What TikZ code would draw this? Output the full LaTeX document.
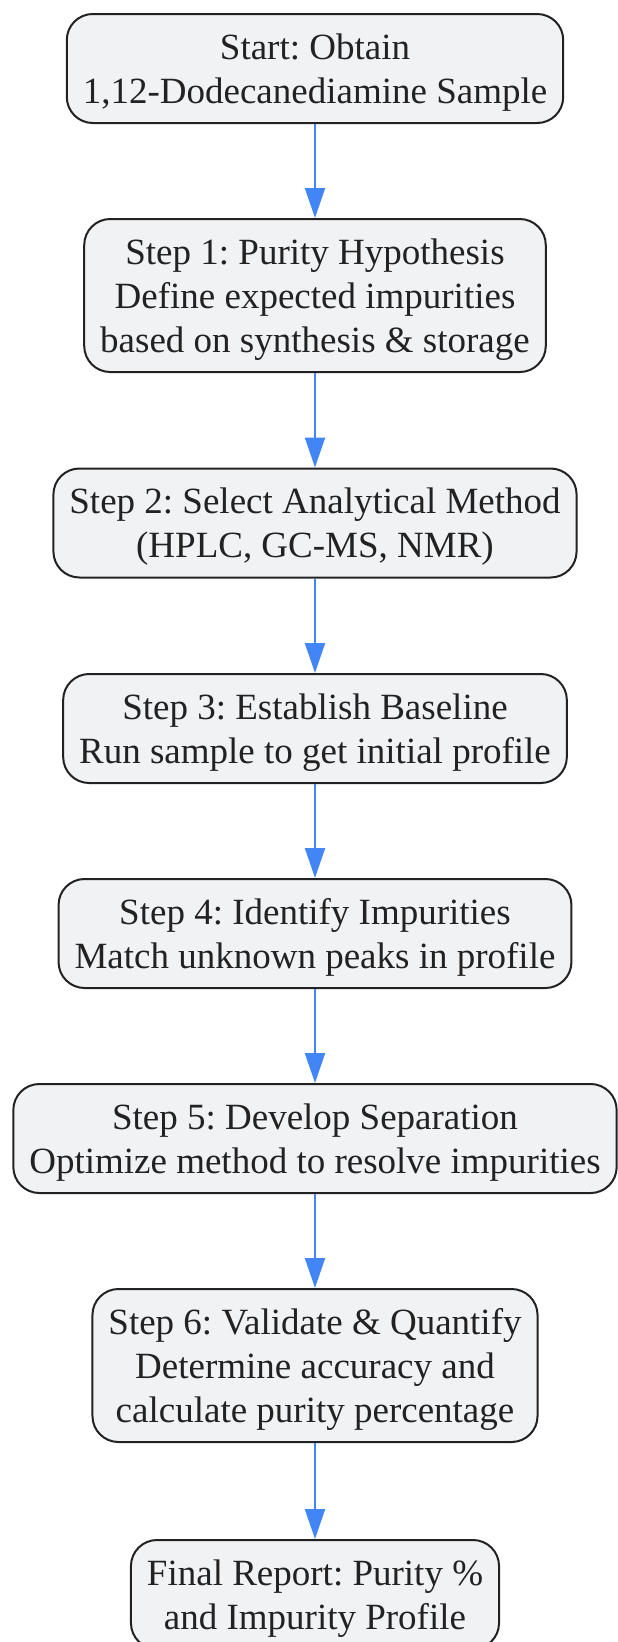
\documentclass[tikz,border=0pt]{standalone}
\usepackage{fontspec}
\setmainfont{Liberation Serif}
\frenchspacing
\usetikzlibrary{arrows.meta}
\definecolor{boxfill}{RGB}{241,242,244}
\definecolor{boxline}{RGB}{34,34,34}
\definecolor{flowblue}{RGB}{66,133,244}
\newcommand{\topgap}{\rule{0pt}{33pt}}
\tikzset{stepbox/.style={draw=boxline, line width=2pt, fill=boxfill, rounded corners=26pt,
  align=center, inner xsep=16pt, inner ysep=0pt, text=boxline, font=\fontsize{37}{44}\selectfont}}
\begin{document}
\begin{tikzpicture}[x=1pt,y=1pt,
  flow/.style={draw=flowblue, line width=2pt, -{Triangle[length=30pt,width=20pt]}}]
\useasboundingbox (0,0) rectangle (618,-1642);
\node[stepbox, minimum height=109pt] (start) at (315,-68.5) {\topgap Start: Obtain\\1,12-Dodecanediamine Sample};
\node[stepbox, minimum height=153pt] (s1) at (315,-295.5) {\topgap Step 1: Purity Hypothesis\\Define expected impurities\\based on synthesis \& storage};
\node[stepbox, minimum height=109pt] (s2) at (315,-523) {\topgap Step 2: Select Analytical Method\\(HPLC, GC-MS, NMR)};
\node[stepbox, minimum height=109pt] (s3) at (315,-728.5) {\topgap Step 3: Establish Baseline\\Run sample to get initial profile};
\node[stepbox, minimum height=109pt] (s4) at (315,-933.5) {\topgap Step 4: Identify Impurities\\Match unknown peaks in profile};
\node[stepbox, minimum height=109pt] (s5) at (315,-1138.5) {\topgap Step 5: Develop Separation\\Optimize method to resolve impurities};
\node[stepbox, minimum height=153pt] (s6) at (315,-1365.5) {\topgap Step 6: Validate \& Quantify\\Determine accuracy and\\calculate purity percentage};
\node[stepbox, minimum height=109pt] (report) at (315,-1594.5) {\topgap Final Report: Purity \%\\and Impurity Profile};

\path[flow] (start) -- (s1);
\path[flow] (s1) -- (s2);
\path[flow] (s2) -- (s3);
\path[flow] (s3) -- (s4);
\path[flow] (s4) -- (s5);
\path[flow] (s5) -- (s6);
\path[flow] (s6) -- (report);
\end{tikzpicture}
\end{document}
